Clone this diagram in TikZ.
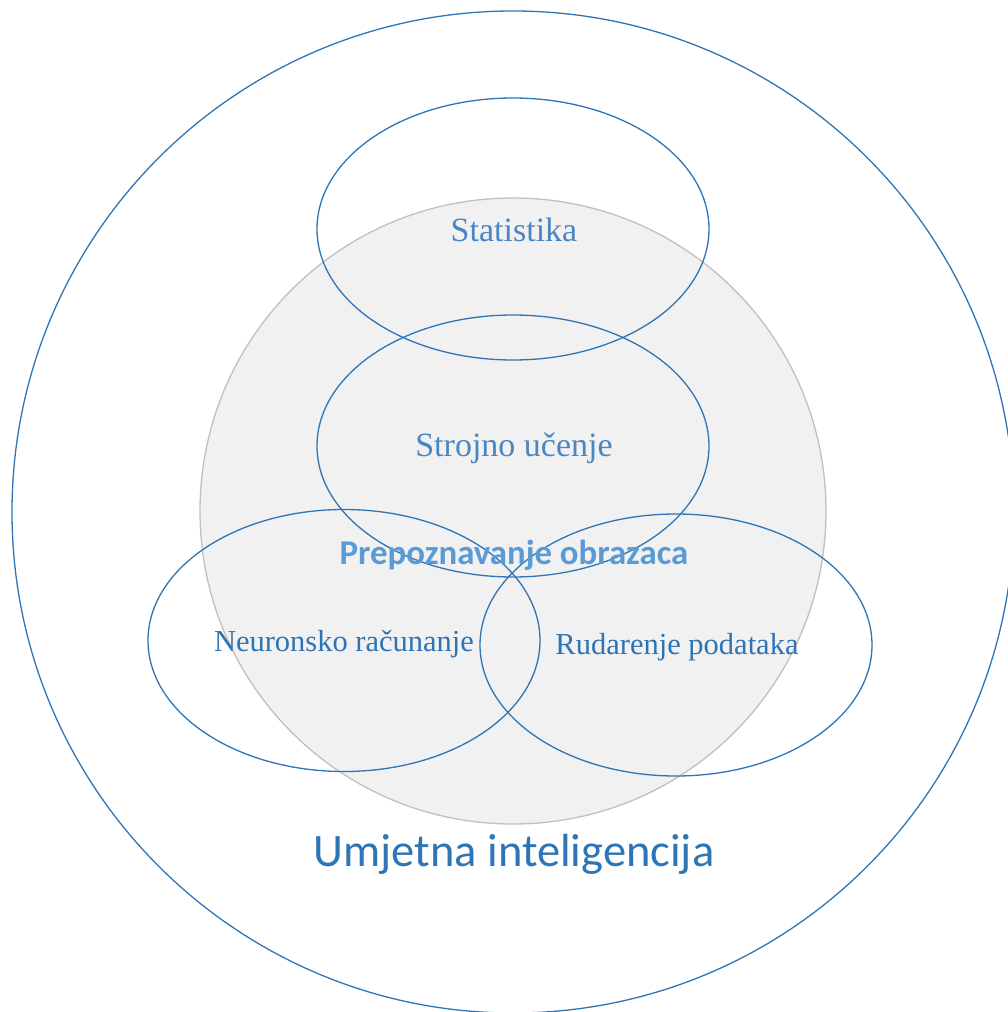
\documentclass[tikz,border=0pt]{standalone}
\usepackage{fontspec}
\setmainfont{Liberation Serif}
\newfontfamily\calibri{Carlito}
\usetikzlibrary{shapes.geometric}
\definecolor{lineblue}{HTML}{2E75B6}
\definecolor{toplab}{HTML}{4A86C2}
\definecolor{botlab}{HTML}{2E74B5}
\definecolor{prepblue}{HTML}{5B9BD5}
\definecolor{grayfill}{HTML}{F1F1F1}
\definecolor{grayline}{HTML}{C0C0C0}
\begin{document}
\begin{tikzpicture}[x=1pt,y=-1pt,
  ring/.style={ellipse, draw=lineblue, line width=1.3pt, inner sep=0pt, minimum width=392pt, minimum height=262pt},
  serlab/.style={anchor=base, inner sep=0pt},
]
\clip (0,0) rectangle (1008,1012);
\useasboundingbox (0,0) rectangle (1008,1012);
\node[circle, draw=lineblue, line width=1.3pt, minimum size=1002pt, inner sep=0pt] (ai) at (513,512) {};
\node[circle, draw=grayline, fill=grayfill, line width=1.3pt, minimum size=626pt, inner sep=0pt] (pr) at (513,511) {};
\node[ring] (stat) at (513,229) {};
\node[ring] (ml) at (513,446) {};
\node[ring] (nc) at (344,640.5) {};
\node[ring] (dm) at (676,645) {};
\node[serlab, text=toplab, font=\fontsize{34}{40}\selectfont] (tstat) at (514,241) {Statistika};
\node[serlab, text=toplab, font=\fontsize{34}{40}\selectfont] (tml) at (514,456) {Strojno učenje};
\node[serlab, text=botlab, font=\fontsize{30.5}{36}\selectfont] (tnc) at (344,651) {Neuronsko računanje};
\node[serlab, text=botlab, font=\fontsize{30.5}{36}\selectfont] (tdm) at (677,654) {Rudarenje podataka};
\node[serlab, text=prepblue, font=\calibri\bfseries\fontsize{34.8}{40}\selectfont] (tpr) at (514,564) {Prepoznavanje obrazaca};
\node[serlab, text=lineblue, font=\calibri\fontsize{46.5}{52}\selectfont] (tai) at (514,866) {Umjetna inteligencija};
\end{tikzpicture}
\end{document}
